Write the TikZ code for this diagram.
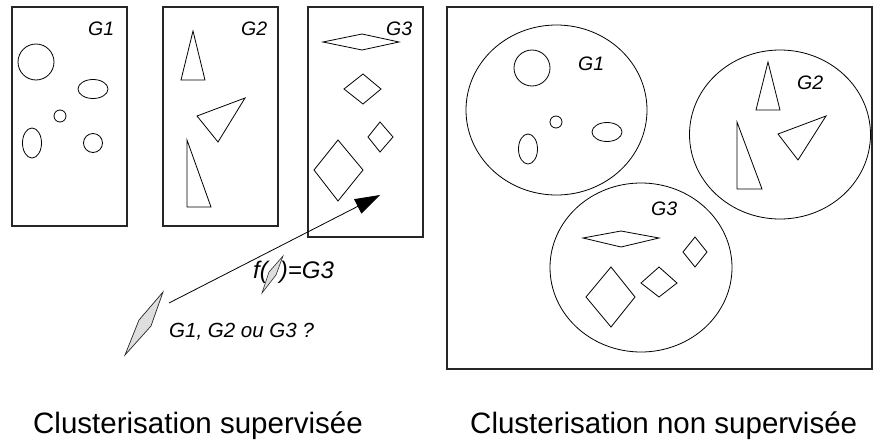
\documentclass[tikz,border=0pt]{standalone}
\usepackage{fontspec}
\setmainfont{Liberation Sans}
\usetikzlibrary{arrows.meta}
\begin{document}
\begin{tikzpicture}[x=1pt,y=-1pt,
  frame/.style={draw=black!85, line width=1.1pt},
  shp/.style={draw=black, line width=0.8pt},
  lensshape/.style={draw=black!85, fill=black!13, line width=0.7pt, line join=miter},
  glabel/.style={anchor=base west, inner sep=0pt, font=\fontsize{19.5}{22}\selectfont\itshape},
  qlabel/.style={anchor=base west, inner sep=0pt, font=\fontsize{20.5}{24}\selectfont\itshape},
  flabel/.style={anchor=base west, inner sep=0pt, font=\fontsize{24}{28}\selectfont\itshape},
  caption/.style={anchor=base west, inner sep=0pt, font=\fontsize{29.5}{34}\selectfont}]
\useasboundingbox (0,0) rectangle (873,442);

% ---------- supervised: three groups ----------
\draw[frame] (12,7) rectangle (127,226);
\draw[frame] (163,7) rectangle (278,226);
\draw[frame] (308,7) rectangle (423,237);

\node[glabel] (lg1) at (88,35) {G1};
\node[glabel] (lg2) at (241,35) {G2};
\node[glabel] (lg3) at (386,35) {G3};

% G1 shapes
\draw[shp] (36,62) circle[radius=18pt];
\draw[shp] (93,89) ellipse[x radius=15pt, y radius=9.5pt];
\draw[shp] (60,116) circle[radius=6pt];
\draw[shp] (32,143) ellipse[x radius=9.5pt, y radius=15pt];
\draw[shp] (93,143) circle[radius=9.5pt];

% G2 shapes
\draw[shp] (193,31) -- (181,80) -- (205,80) -- cycle;
\draw[shp] (197,116) -- (245,98) -- (218,142) -- cycle;
\draw[shp] (187,140) -- (187,207) -- (211,207) -- cycle;

% G3 shapes
\draw[shp] (323,42) -- (362,34) -- (399,42) -- (362,50) -- cycle;
\draw[shp] (344,89) -- (363,74) -- (381,89) -- (363,104) -- cycle;
\draw[shp] (368,137) -- (380,122) -- (393,137) -- (380,152) -- cycle;
\draw[shp] (314,170) -- (338,140) -- (363,170) -- (338,201) -- cycle;

% query object and arrow
\draw[lensshape] (163,292) -- (139,320) -- (125,355) -- (151,326) -- cycle;
\coordinate (qstart) at (169,303);
\coordinate (qend) at (380,195);
\draw[line width=0.8pt, -{Triangle[length=25pt,width=16pt]}] (qstart) -- (qend);

\node[flabel] (fl) at (253,278) {f(\hspace{12pt})=G3};
\draw[lensshape, line width=0.6pt] (283,256) -- (269,272) -- (262,293) -- (276,275) -- cycle;

\node[qlabel] (ql) at (169,337) {G1, G2 ou G3 ?};

% ---------- unsupervised ----------
\draw[frame] (447,7) rectangle (872,369);

\draw[shp] (556.5,110) ellipse[x radius=90.5pt, y radius=85pt];
\draw[shp] (780,134.5) ellipse[x radius=90.5pt, y radius=84.5pt];
\draw[shp] (641,267.5) ellipse[x radius=91pt, y radius=84.5pt];

\node[glabel] (rg1) at (578,70) {G1};
\node[glabel] (rg2) at (797,89) {G2};
\node[glabel] (rg3) at (651,215) {G3};

% cluster 1
\draw[shp] (532,68) circle[radius=18pt];
\draw[shp] (556,122) circle[radius=6pt];
\draw[shp] (607,132) ellipse[x radius=15pt, y radius=9.5pt];
\draw[shp] (528,149) ellipse[x radius=9.5pt, y radius=15pt];

% cluster 2
\draw[shp] (768,62) -- (756,110) -- (780,110) -- cycle;
\draw[shp] (778,134) -- (826,116) -- (798,160) -- cycle;
\draw[shp] (737,122) -- (737,189) -- (762,189) -- cycle;

% cluster 3
\draw[shp] (583,238) -- (621,231) -- (659,238) -- (621,247) -- cycle;
\draw[shp] (683,252) -- (695,237) -- (707,252) -- (695,267) -- cycle;
\draw[shp] (641,283) -- (659,267) -- (677,283) -- (659,297) -- cycle;
\draw[shp] (586,297) -- (611,267) -- (635,297) -- (611,327) -- cycle;

% captions
\node[caption] (c1) at (33,433) {Clusterisation supervisée};
\node[caption] (c2) at (470,433) {Clusterisation non supervisée};
\end{tikzpicture}
\end{document}
